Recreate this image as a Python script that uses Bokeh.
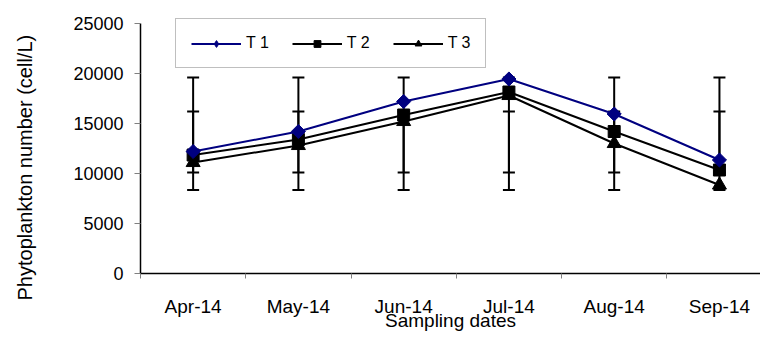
from bokeh.plotting import figure
from bokeh.models import (ColumnDataSource, FixedTicker, Whisker, TeeHead, Legend,
                          LegendItem, Title, Range1d)
from bokeh.embed import file_html
from bokeh.resources import INLINE

months = ["Apr-14", "May-14", "Jun-14", "Jul-14", "Aug-14", "Sep-14"]
xpos = [0.5, 1.5, 2.5, 3.5, 4.5, 5.5]
t1 = [12200, 14200, 17200, 19450, 15950, 11350]
t2 = [11850, 13400, 15850, 18150, 14200, 10350]
t3 = [11100, 12800, 15200, 17800, 13000, 8850]
err_outer_lo = [8350, 8350, 8350, 8350, 8350, 8350]
err_outer_hi = [19600, 19600, 19600, 19600, 19600, 19600]
err_inner_lo = [10100, 10100, 10100, 10100, 10100, 10100]
err_inner_hi = [16200, 16200, 16200, 16200, 16200, 16200]
y_ticks = [0, 5000, 10000, 15000, 20000, 25000]

FONT = "Liberation Sans"
NAVY = "#000080"
GRAY = "#808080"
NAN = float("nan")

p = figure(width=760, height=335, output_backend="svg", toolbar_location=None,
           x_range=Range1d(0, 5.89), y_range=Range1d(0, 27300),
           min_border_left=140, min_border_right=0, min_border_top=0,
           min_border_bottom=62)
p.outline_line_color = None
p.grid.visible = False
p.background_fill_color = "white"
p.border_fill_color = "white"

# x axis
xa = p.xaxis[0]
xa.ticker = FixedTicker(ticks=xpos, minor_ticks=[0, 1, 2, 3, 4, 5])
xa.major_label_overrides = {x: m for x, m in zip(xpos, months)}
xa.major_tick_out = 0
xa.major_tick_in = 0
xa.minor_tick_out = 5
xa.minor_tick_in = 0
xa.minor_tick_line_color = GRAY
xa.axis_line_color = "black"
xa.axis_line_width = 1.5
xa.major_label_text_font = FONT
xa.major_label_text_font_size = "19px"
xa.major_label_text_color = "black"
xa.major_label_standoff = 17
xa.axis_label = "Sampling dates"
xa.axis_label_text_font = FONT
xa.axis_label_text_font_size = "19px"
xa.axis_label_text_font_style = "normal"
xa.axis_label_text_color = "black"
xa.axis_label_standoff = -10

# y axis
ya = p.yaxis[0]
ya.ticker = FixedTicker(ticks=y_ticks, minor_ticks=[])
ya.bounds = (0, 25000)
ya.major_tick_out = 6
ya.major_tick_in = 0
ya.major_tick_line_color = GRAY
ya.axis_line_color = "black"
ya.axis_line_width = 1.5
ya.major_label_text_font = FONT
ya.major_label_text_font_size = "18px"
ya.major_label_text_color = "black"
ya.major_label_standoff = 11
ya.axis_label = " "
ya.axis_label_text_font_size = "19px"
ya.axis_label_standoff = 6

ytitle = Title(text="Phytoplankton number (cell/L)", align="left", offset=-27,
               text_font=FONT, text_font_size="20px", text_font_style="normal",
               text_color="black")
p.add_layout(ytitle, "left")

src = ColumnDataSource(dict(x=xpos, t1=t1, t2=t2, t3=t3,
                            olo=err_outer_lo, ohi=err_outer_hi,
                            ilo=err_inner_lo, ihi=err_inner_hi))

for lo, hi in (("olo", "ohi"), ("ilo", "ihi")):
    w = Whisker(source=src, base="x", lower=lo, upper=hi, dimension="height",
                line_color="black", line_width=2, level="underlay",
                upper_head=TeeHead(size=12, line_width=2, line_color="black"),
                lower_head=TeeHead(size=12, line_width=2, line_color="black"))
    p.add_layout(w)

# series (T3 first so T1 is on top)
p.line("x", "t3", source=src, line_color="black", line_width=2)
p.scatter("x", "t3", source=src, marker="triangle", size=14, color="black")
p.line("x", "t2", source=src, line_color="black", line_width=2)
p.scatter("x", "t2", source=src, marker="square", size=12, color="black")
p.line("x", "t1", source=src, line_color=NAVY, line_width=2)
p.scatter("x", "t1", source=src, marker="square", angle=0.785398, size=10, color=NAVY)

# legend-only renderers (smaller markers as in reference)
dummy = ColumnDataSource(dict(x=[NAN], y=[NAN]))
l1 = p.line("x", "y", source=dummy, line_color=NAVY, line_width=2)
m1 = p.scatter("x", "y", source=dummy, marker="diamond", size=13, color=NAVY)
l2 = p.line("x", "y", source=dummy, line_color="black", line_width=2)
m2 = p.scatter("x", "y", source=dummy, marker="square", size=9, color="black")
l3 = p.line("x", "y", source=dummy, line_color="black", line_width=2)
m3 = p.scatter("x", "y", source=dummy, marker="triangle", size=11, color="black")

legend = Legend(items=[LegendItem(label="T 1", renderers=[l1, m1]),
                       LegendItem(label="T 2", renderers=[l2, m2]),
                       LegendItem(label="T 3", renderers=[l3, m3])],
                orientation="horizontal", location=(35, 205),
                glyph_width=50, glyph_height=17, label_height=17,
                label_standoff=5, spacing=23, padding=15, margin=0,
                label_text_font=FONT, label_text_font_size="16px",
                label_text_color="black",
                border_line_color=GRAY, border_line_width=1,
                background_fill_color="white", background_fill_alpha=1)
p.add_layout(legend, "center")

open("out.html", "w").write(file_html(p, INLINE))
